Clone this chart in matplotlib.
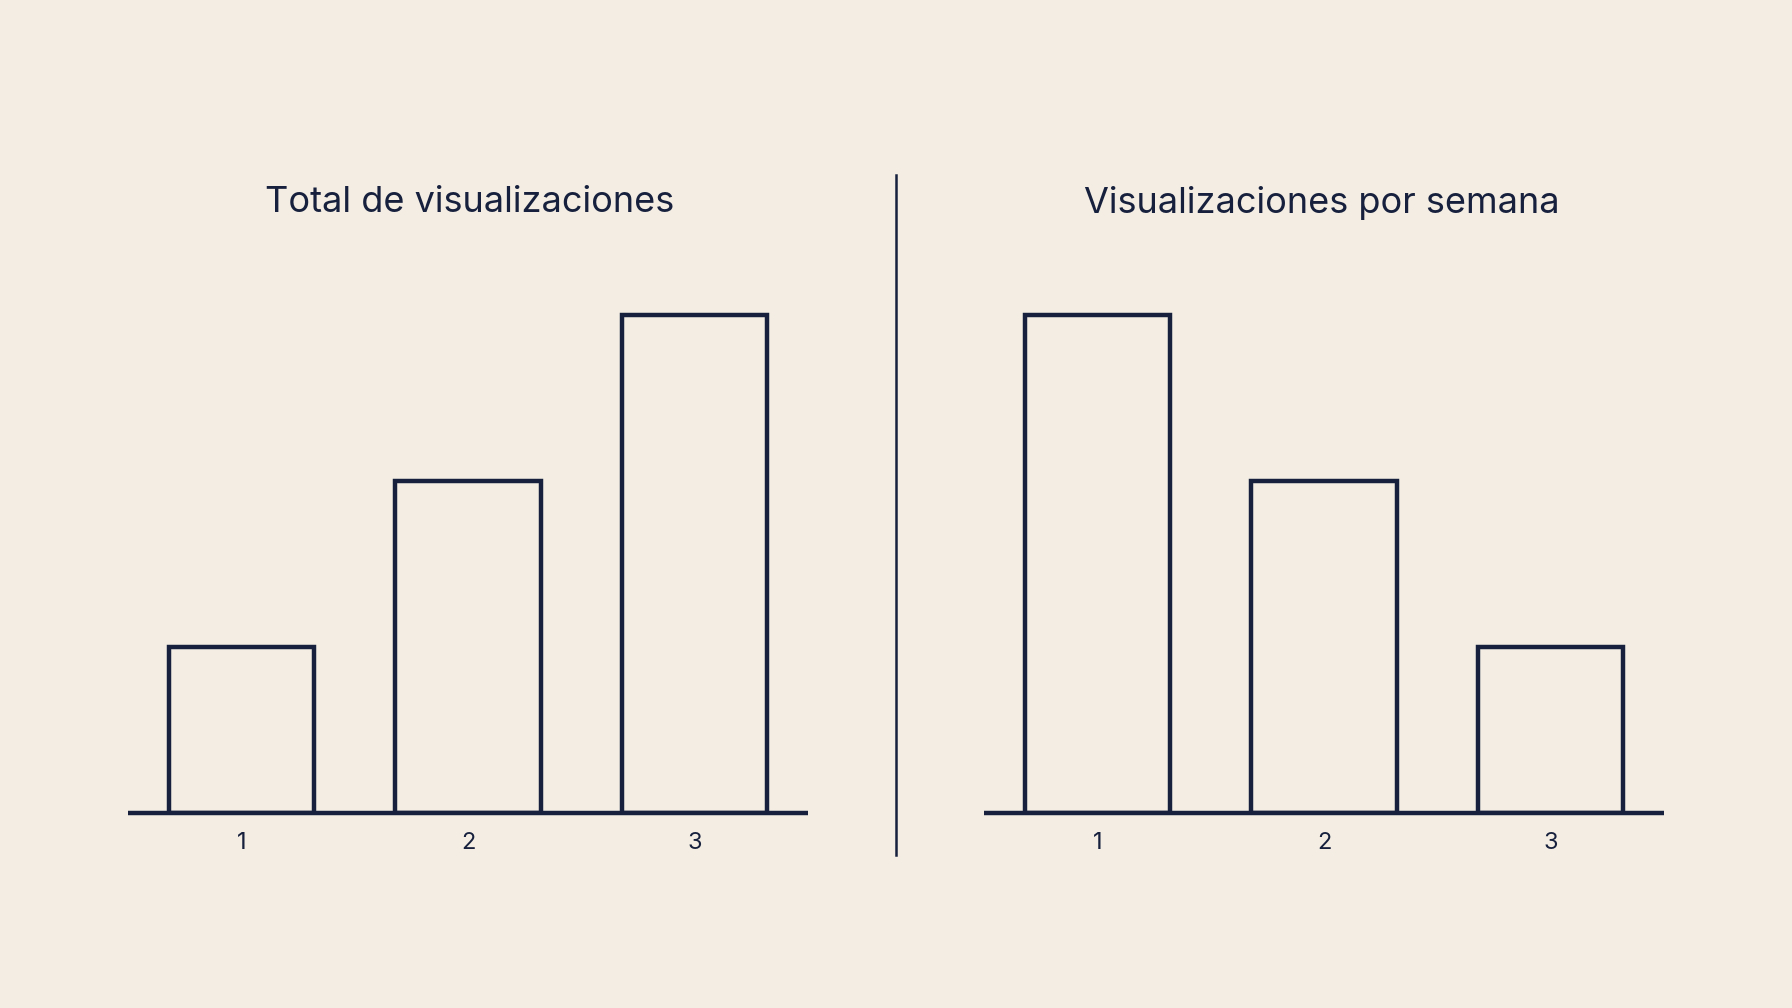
import matplotlib
matplotlib.use("Agg")
import matplotlib.pyplot as plt
from matplotlib.lines import Line2D

categories = ["1", "2", "3"]
total_views = [1, 2, 3]
weekly_views = [3, 2, 1]
titles = ["Total de visualizaciones", "Visualizaciones por semana"]

BG = "#f3ede3"
NAVY = "#17213d"
W, H = 1792, 1008
DPI = 100

plt.rcParams['font.family'] = ['Inter', 'DejaVu Sans']

fig = plt.figure(figsize=(W / DPI, H / DPI), dpi=DPI, facecolor=BG)

unit = 166.0
ymax = 3.2
base_y = H - 813
ax_h = unit * ymax

lefts = [128, 984]
width = 680
title_centers = [470, 1322]

for left, vals, title, tc in zip(lefts, [total_views, weekly_views], titles, title_centers):
    ax = fig.add_axes([left / W, base_y / H, width / W, ax_h / H])
    ax.set_facecolor(BG)
    x = list(range(1, len(categories) + 1))
    ax.bar(x, vals, width=0.64, facecolor="none", edgecolor=NAVY, linewidth=3.2)
    ax.set_xlim(0.5, 3.5)
    ax.set_ylim(0, ymax)
    ax.set_xticks(x)
    ax.set_xticklabels(categories, fontsize=17, color=NAVY)
    ax.tick_params(axis='x', length=0, pad=14)
    ax.set_yticks([])
    for s in ["top", "right", "left"]:
        ax.spines[s].set_visible(False)
    ax.spines["bottom"].set_color(NAVY)
    ax.spines["bottom"].set_linewidth(3.2)
    ax.spines["bottom"].set_capstyle("butt")
    fig.text(tc / W, 1 - 203 / H, title, ha="center", va="center",
             fontsize=26, color=NAVY)

fig.add_artist(Line2D([896 / W, 896 / W], [1 - 175 / H, 1 - 855 / H],
                      color=NAVY, linewidth=1.8, transform=fig.transFigure))

fig.savefig("out.png", dpi=DPI, facecolor=BG)
